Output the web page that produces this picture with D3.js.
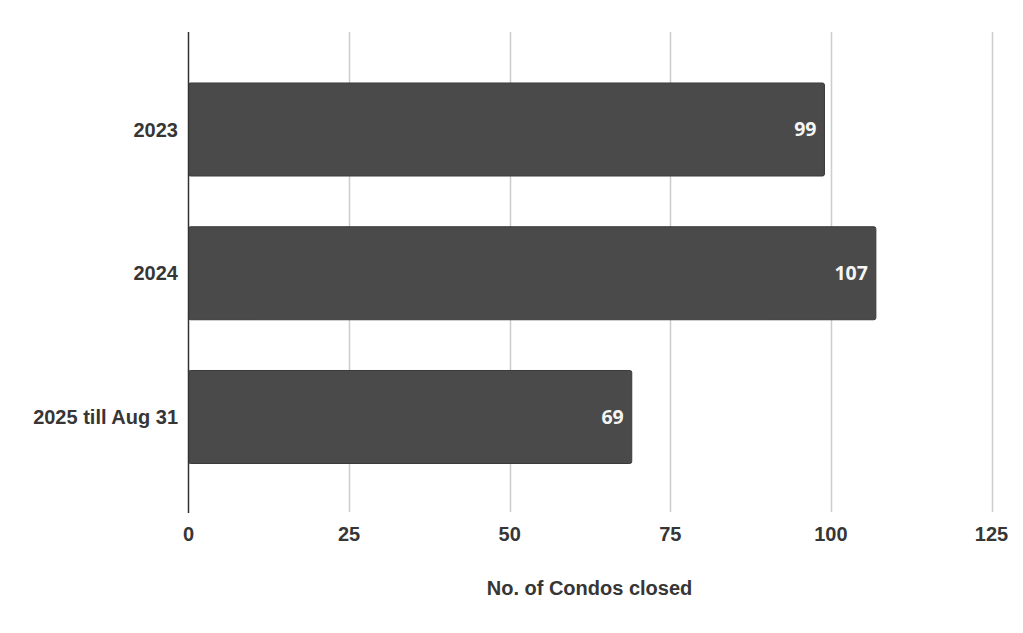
<!DOCTYPE html>
<html><head><meta charset="utf-8">
<script src="https://cdn.jsdelivr.net/npm/d3@7/dist/d3.min.js"></script>
<style>body{margin:0;background:#fff}svg{display:block}</style>
</head><body>
<svg id="chart" width="1023" height="633"></svg>
<script>
const categories = ["2023", "2024", "2025 till Aug 31"];
const values = [99, 107, 69];
const xTicks = [0, 25, 50, 75, 100, 125];
const xTitle = "No. of Condos closed";

const svg = d3.select("#chart");
const plotLeft = 188.5, plotRight = 991.5, plotTop = 32, plotBottom = 512;
const x = d3.scaleLinear().domain([0, 125]).range([plotLeft, plotRight]);
const step = 143.75;
const y = d3.scaleBand().domain(categories)
  .range([129.5 - step / 2, 129.5 - step / 2 + step * 3])
  .paddingInner(0.353).paddingOuter(0.1765);

// gridlines
svg.append("g").selectAll("line").data(xTicks.filter(d => d > 0)).join("line")
  .attr("x1", d => Math.round(x(d)) + 0.5).attr("x2", d => Math.round(x(d)) + 0.5)
  .attr("y1", plotTop).attr("y2", plotBottom)
  .attr("stroke", "#cccccc").attr("stroke-width", 1.5);

// bars
svg.append("g").selectAll("rect").data(values).join("rect")
  .attr("x", x(0)).attr("y", (d, i) => y(categories[i]))
  .attr("width", d => x(d) - x(0)).attr("height", y.bandwidth())
  .attr("rx", 2).attr("fill", "#4a4a4a").attr("stroke", "#3a3a3a").attr("stroke-width", 1);

// axis line
svg.append("line").attr("x1", plotLeft).attr("x2", plotLeft).attr("y1", plotTop).attr("y2", plotBottom + 1)
  .attr("stroke", "#333").attr("stroke-width", 1.5);

// value labels
svg.append("g").selectAll("text").data(values).join("text")
  .attr("x", d => x(d) - 8).attr("y", (d, i) => y(categories[i]) + y.bandwidth() / 2)
  .attr("dy", "0.35em").attr("text-anchor", "end")
  .attr("font-family", "'Open Sans', 'Noto Sans', sans-serif").attr("font-weight", "bold")
  .attr("font-size", 19.5).attr("fill", "#f5f5f5").text(d => d);

// category labels
svg.append("g").selectAll("text").data(categories).join("text")
  .attr("x", 178).attr("y", d => y(d) + y.bandwidth() / 2)
  .attr("dy", "0.35em").attr("text-anchor", "end")
  .attr("font-family", "'Liberation Sans', Arial, sans-serif").attr("font-weight", "bold")
  .attr("font-size", 20).attr("fill", "#363636").text(d => d);

// x tick labels
svg.append("g").selectAll("text").data(xTicks).join("text")
  .attr("x", d => x(d)).attr("y", 534).attr("dy", "0.35em").attr("text-anchor", "middle")
  .attr("font-family", "'Liberation Sans', Arial, sans-serif").attr("font-weight", "bold")
  .attr("font-size", 20).attr("fill", "#363636").text(d => d);

// x title
svg.append("text").attr("x", (x(0) + x(125)) / 2 - 0.5).attr("y", 588).attr("dy", "0.35em")
  .attr("text-anchor", "middle")
  .attr("font-family", "'Liberation Sans', Arial, sans-serif").attr("font-weight", "bold")
  .attr("font-size", 20).attr("fill", "#363636").text(xTitle);
</script>
</body></html>
